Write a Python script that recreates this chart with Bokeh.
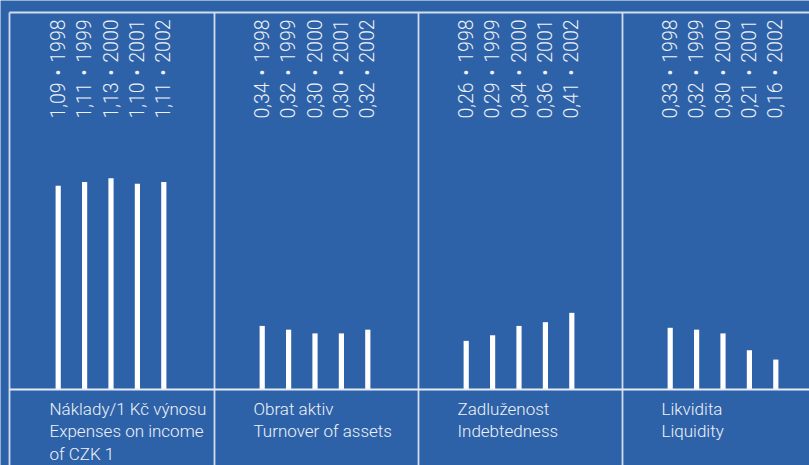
import math
from bokeh.plotting import figure
from bokeh.models import Range1d
from bokeh.core.properties import value
from bokeh.embed import file_html
from bokeh.resources import INLINE

# --- data -------------------------------------------------------------
years = ["1998", "1999", "2000", "2001", "2002"]
expenses = [1.09, 1.11, 1.13, 1.10, 1.11]
turnover = [0.34, 0.32, 0.30, 0.30, 0.32]
indebtedness = [0.26, 0.29, 0.34, 0.36, 0.41]
liquidity = [0.33, 0.32, 0.30, 0.21, 0.16]
series = [expenses, turnover, indebtedness, liquidity]

titles = [
    ["Náklady/1 Kč výnosu", "Expenses on income", "of CZK 1"],
    ["Obrat aktiv", "Turnover of assets"],
    ["Zadluženost", "Indebtedness"],
    ["Likvidita", "Liquidity"],
]

# --- layout constants -------------------------------------------------
W, H = 809, 465
BLUE = "#2E62A8"
LINE = "#D2DDEE"
TEXT = "#EEF2F8"
FONT = value("Roboto Light, Roboto, Liberation Sans")
SEP = "\u2004\u2022\u2004"   # value / year separator

PANEL_W = 204.0
PANEL_X0 = 10.0
BAR_OFFSET = 47.7
BAR_STEP = 26.4
BAR_W = 5.2
BASE_PX = 389.0          # baseline, pixels from top
PX_PER_UNIT = 187.0      # vertical scale of the bars

base_from_bottom = H - BASE_PX
p = figure(
    width=W, height=H,
    x_range=Range1d(0, W),
    y_range=Range1d(-base_from_bottom / PX_PER_UNIT, (H - base_from_bottom) / PX_PER_UNIT),
    output_backend="svg", toolbar_location=None,
    x_axis_location=None, y_axis_location=None,
    min_border=0,
)
# layout range measured in pixels from the top edge
p.extra_y_ranges = {"px": Range1d(H, 0)}
p.grid.visible = False
p.outline_line_color = None
p.background_fill_color = BLUE
p.border_fill_color = BLUE

# --- bars and rotated value labels -----------------------------------
bx, btop, lab_text = [], [], []
for k, vals in enumerate(series):
    left = PANEL_X0 + k * PANEL_W
    for i, (yr, v) in enumerate(zip(years, vals)):
        bx.append(left + BAR_OFFSET + i * BAR_STEP)
        btop.append(v)
        lab_text.append(f"{v:.2f}".replace(".", ",") + SEP + yr)

p.vbar(x=bx, top=btop, bottom=0, width=BAR_W, fill_color="white", line_color=None)

p.text(x=bx, y=[118] * len(bx), text=lab_text, y_range_name="px",
       angle=math.pi / 2, text_align="left", text_baseline="middle",
       text_font=FONT, text_font_size="19.5px", text_color=TEXT)

# --- frame lines ------------------------------------------------------
seps = [9.0, 214.0, 418.0, 622.0]
p.segment(x0=seps, y0=[12] * 4, x1=seps, y1=[H] * 4, y_range_name="px",
          line_color=LINE, line_width=1.8)
p.segment(x0=[9.0], y0=[12], x1=[W], y1=[12], y_range_name="px",
          line_color=LINE, line_width=1.8)
p.segment(x0=[9.0], y0=[BASE_PX], x1=[W], y1=[BASE_PX], y_range_name="px",
          line_color="#E6ECF6", line_width=2)

# --- panel captions ---------------------------------------------------
tx, ty, tt = [], [], []
for k, lines in enumerate(titles):
    left = PANEL_X0 + k * PANEL_W
    for j, line in enumerate(lines):
        tx.append(left + 39)
        ty.append(408.5 + j * 22.3)
        tt.append(line)
p.text(x=tx, y=ty, text=tt, y_range_name="px",
       text_align="left", text_baseline="middle",
       text_font=FONT, text_font_size="17px", text_color=TEXT)

open("out.html", "w").write(file_html(p, INLINE))
